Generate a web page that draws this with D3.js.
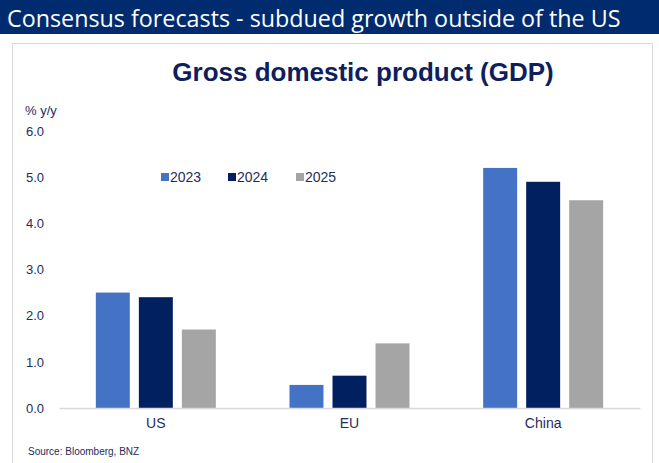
<!DOCTYPE html>
<html>
<head>
<meta charset="utf-8">
<script src="https://cdn.jsdelivr.net/npm/d3@7"></script>
<style>
  body { margin: 0; background: #fff; }
  svg { display: block; }
</style>
</head>
<body>
<div id="chart"></div>
<script>
// chart data
const categories = ["US", "EU", "China"];
const years = ["2023", "2024", "2025"];
const v2023 = [2.5, 0.5, 5.2];
const v2024 = [2.4, 0.7, 4.9];
const v2025 = [1.7, 1.4, 4.5];
const yTicks = [0, 1, 2, 3, 4, 5, 6];

const colors = ["#4472C4", "#002060", "#A5A5A5"];
const textColor = "#1F2D5A";

function drawChart() {
    const W = 659, H = 463;
    const plot = { left: 59, right: 640, top: 131, bottom: 408 };

    const svg = d3.select("#chart").append("svg")
        .attr("width", W)
        .attr("height", H);

    // header band
    svg.append("rect")
        .attr("x", 0).attr("y", 0)
        .attr("width", W).attr("height", 34)
        .attr("fill", "#002B6E");
    svg.append("text")
        .attr("x", 7).attr("y", 27)
        .attr("fill", "#fff")
        .style("font-family", "'Open Sans', sans-serif")
        .style("font-size", "23.3px")
        .text("Consensus forecasts - subdued growth outside of the US");

    // panel border
    svg.append("rect")
        .attr("x", 12.5).attr("y", 43.5)
        .attr("width", 640).attr("height", 425)
        .attr("fill", "none")
        .attr("stroke", "#D9D9D9");

    // title
    svg.append("text")
        .attr("x", 363).attr("y", 81)
        .attr("text-anchor", "middle")
        .attr("fill", "#0F1F5C")
        .style("font-family", "'Liberation Sans', Arial, sans-serif")
        .style("font-weight", "bold")
        .style("font-size", "26px")
        .text("Gross domestic product (GDP)");

    // unit label
    svg.append("text")
        .attr("x", 25).attr("y", 115)
        .attr("fill", textColor)
        .style("font-family", "'Liberation Sans', Arial, sans-serif")
        .style("font-size", "13px")
        .text("% y/y");

    const x = d3.scaleBand()
        .domain(categories)
        .range([plot.left, plot.right]);

    const x1 = d3.scaleBand()
        .domain(years)
        .range([0, 120])
        .paddingInner(0.21);

    const y = d3.scaleLinear()
        .domain([0, 6])
        .range([plot.bottom, plot.top]);

    // y axis
    const yAxis = svg.append("g")
        .attr("transform", `translate(${plot.left},0)`)
        .call(d3.axisLeft(y).tickValues(yTicks).tickFormat(d3.format(".1f")).tickSize(0).tickPadding(11));
    yAxis.select(".domain").remove();
    yAxis.selectAll("text")
        .attr("fill", textColor)
        .attr("text-anchor", "start")
        .attr("x", -33)
        .style("font-family", "'Liberation Sans', Arial, sans-serif")
        .style("font-size", "13px");

    // bars
    const series = [v2023, v2024, v2025];
    const offset = (x.bandwidth() - 120) / 2;
    years.forEach((yr, i) => {
        svg.append("g")
            .attr("fill", colors[i])
            .selectAll("rect")
            .data(categories.map((c, j) => ({ c, v: series[i][j] })))
            .enter()
            .append("rect")
            .attr("x", d => x(d.c) + offset + x1(yr))
            .attr("y", d => y(d.v))
            .attr("width", x1.bandwidth())
            .attr("height", d => y(0) - y(d.v));
    });

    // x axis
    const xAxis = svg.append("g")
        .attr("transform", `translate(0,${plot.bottom})`)
        .call(d3.axisBottom(x).tickSize(0).tickPadding(10).tickSizeOuter(0));
    xAxis.select(".domain").attr("stroke", "#D9D9D9").attr("stroke-width", 1.5);
    xAxis.selectAll("text")
        .attr("fill", textColor)
        .style("font-family", "'Liberation Sans', Arial, sans-serif")
        .style("font-size", "14px");

    // legend
    const legendX = [161, 228, 296];
    const legend = svg.append("g")
        .selectAll("g")
        .data(years)
        .enter()
        .append("g")
        .attr("transform", (d, i) => `translate(${legendX[i]},173)`);
    legend.append("rect")
        .attr("width", 8).attr("height", 8)
        .attr("fill", (d, i) => colors[i]);
    legend.append("text")
        .attr("x", 9).attr("y", 9)
        .attr("fill", textColor)
        .style("font-family", "'Liberation Sans', Arial, sans-serif")
        .style("font-size", "14px")
        .text(d => d);

    // source
    svg.append("text")
        .attr("x", 28).attr("y", 455)
        .attr("fill", textColor)
        .style("font-family", "'Liberation Sans', Arial, sans-serif")
        .style("font-size", "10px")
        .text("Source: Bloomberg, BNZ");
}

drawChart();
</script>
</body>
</html>
